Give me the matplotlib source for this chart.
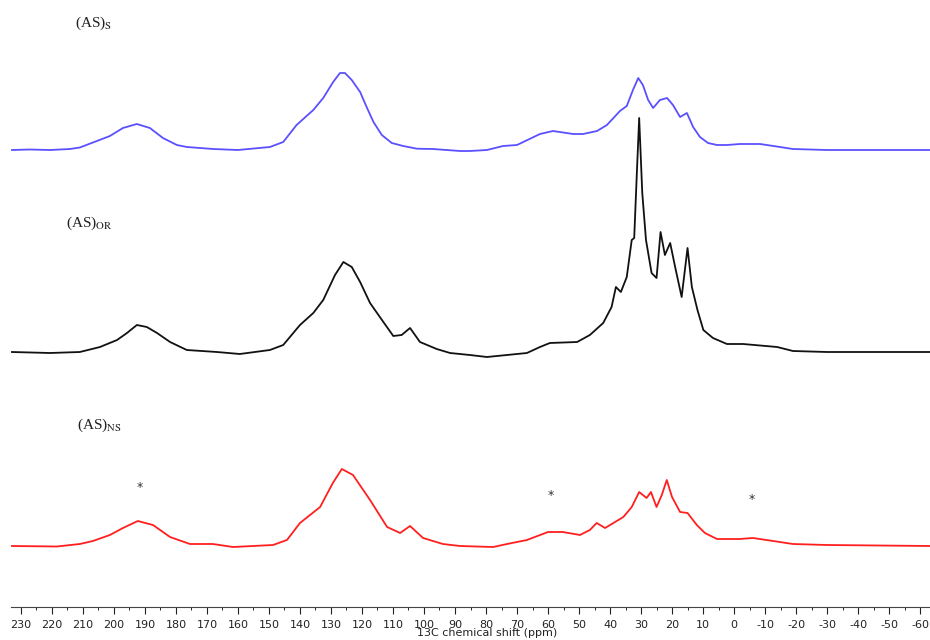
import matplotlib

matplotlib.use("Agg")
import matplotlib.pyplot as plt
from matplotlib.ticker import MultipleLocator

# 13C CP-MAS spectra, ppm vs. intensity above each trace's own baseline
ppm_s = [232.9, 227.1, 220.6, 214.2, 211.0, 205.5, 201.3, 197.1, 192.6, 188.4,
         184.2, 179.7, 176.5, 168.0, 160.0, 149.7, 145.4, 141.1, 135.7, 132.5,
         129.3, 127.1, 125.5, 123.3, 120.6, 118.5, 116.3, 113.6, 110.4, 106.7,
         102.3, 97.1, 88.4, 85.2, 79.7, 74.5, 70.0, 62.6, 58.4, 51.9,
         48.7, 44.2, 41.0, 36.8, 34.6, 32.6, 30.9, 29.4, 27.7, 26.1,
         23.9, 21.6, 19.7, 17.4, 15.2, 13.2, 11.0, 8.4, 5.5, 2.3,
         -1.9, -8.4, -14.8, -19.0, -30.0, -47.0, -63.2]
int_s = [0, 0.5, 0, 1, 2.5, 9, 14, 22, 26, 22,
         12, 5, 3, 1, 0, 3, 8, 25, 40, 52,
         68, 77, 77, 70, 58, 43, 28, 15, 7, 4,
         1.3, 1, -1, -1, 0, 4, 5, 16, 19, 16,
         16, 19, 25, 39, 44, 60, 72, 65, 50, 42,
         50, 52, 45, 33, 37, 23, 13, 7, 5, 5,
         6, 6, 3, 1, 0, 0, 0]

ppm_or = [232.9, 220.6, 211.0, 204.5, 199.0, 195.8, 192.6, 189.4, 186.1, 181.9,
          176.5, 166.8, 159.4, 149.7, 145.4, 140.0, 135.7, 132.5, 128.7, 126.0,
          123.3, 120.6, 117.4, 113.1, 109.9, 107.2, 104.5, 101.3, 95.9, 91.6,
          85.2, 79.7, 66.8, 62.6, 59.4, 50.6, 46.5, 42.2, 39.5, 38.1,
          36.5, 34.6, 33.0, 32.2, 31.4, 30.6, 29.6, 28.4, 26.6, 25.0,
          23.7, 22.3, 20.6, 19.0, 16.9, 15.0, 13.6, 11.8, 9.9, 6.8,
          2.3, -2.9, -13.9, -19.0, -30.0, -63.2]
int_or = [0, -1, 0, 5, 12, 19, 27, 25, 19, 10,
          2, 0, -2, 2, 7, 27, 39, 52, 77, 90,
          85, 70, 49, 30, 16, 17, 24, 10, 3, -1,
          -3, -5, -1, 5, 9, 10, 17, 29, 45, 65,
          60, 75, 112, 114, 175, 234, 159, 112, 79, 74,
          120, 97, 109, 85, 55, 104, 65, 42, 22, 14,
          8, 8, 5, 1, 0, 0]

ppm_ns = [232.9, 218.4, 211.0, 206.8, 201.3, 197.1, 192.3, 187.4, 181.9, 175.5,
          168.1, 161.6, 148.7, 144.2, 140.0, 133.5, 129.4, 126.5, 122.9, 117.4,
          111.9, 107.7, 104.5, 100.3, 93.9, 88.4, 77.7, 73.2, 66.8, 60.0,
          55.2, 49.7, 46.5, 44.3, 41.6, 35.7, 33.0, 30.6, 28.2, 26.8,
          25.0, 23.3, 21.7, 20.0, 17.4, 15.0, 12.0, 9.4, 5.5, -1.9,
          -6.1, -12.6, -19.0, -30.0, -63.2]
int_ns = [0, -0.5, 2, 5, 11, 18, 25, 21, 9, 2,
          2, -1, 1, 6, 23, 39, 63, 77, 71, 46,
          19, 13, 20, 8, 2, 0, -1, 2, 6, 14,
          14, 11, 16, 23, 18, 29, 39, 54, 48, 54,
          39, 51, 66, 49, 34, 33, 21, 13, 7, 7,
          8, 5, 2, 1, 0]

# spinning sidebands marked with asterisks (ppm, height)
star_ppm = [191.6, 59.0, -5.8]
star_y = [120, 111, 108]

plt.rcParams["mathtext.fontset"] = "stix"
fig = plt.figure(figsize=(9.3, 6.4), dpi=100)
ax = fig.add_axes([11 / 930, 33 / 640, 919 / 930, 607 / 640])

traces = [
    (ppm_s, int_s, 457, "#5a50ff", r"(AS)$_{\mathrm{S}}$", 75, 617),
    (ppm_or, int_or, 255, "#111111", r"(AS)$_{\mathrm{OR}}$", 66, 417),
    (ppm_ns, int_ns, 61, "#ff1f1f", r"(AS)$_{\mathrm{NS}}$", 77, 215),
]
for ppm, inten, base, color, label, lx, ly in traces:
    ax.plot(ppm, [base + v for v in inten], color=color, lw=1.3)
    fig.text(lx / 930, ly / 640, label, family="Liberation Serif", fontsize=11,
             color="#222222", va="center")

for p, h in zip(star_ppm, star_y):
    ax.text(p, h, "*", ha="center", va="center", fontsize=9, color="#333333")

ax.set_xlim(233.2, -63.2)
ax.set_ylim(0, 607)
ax.xaxis.set_minor_locator(MultipleLocator(5))
ax.set_xticks(range(-60, 231, 10))
ax.set_xticklabels([str(v) for v in range(-60, 231, 10)])
ax.tick_params(axis="x", which="major", length=5, width=0.8, pad=4,
               labelsize=8, colors="#222222")
ax.tick_params(axis="x", which="minor", length=2.5, width=0.6)
ax.set_yticks([])
for side in ("top", "left", "right"):
    ax.spines[side].set_visible(False)
ax.spines["bottom"].set_color("#444444")
ax.spines["bottom"].set_linewidth(0.8)

fig.text(487 / 930, 7 / 640, "13C chemical shift (ppm)", ha="center", va="center",
         fontsize=8, color="#222222")

fig.savefig("out.png", dpi=100, facecolor="white")
